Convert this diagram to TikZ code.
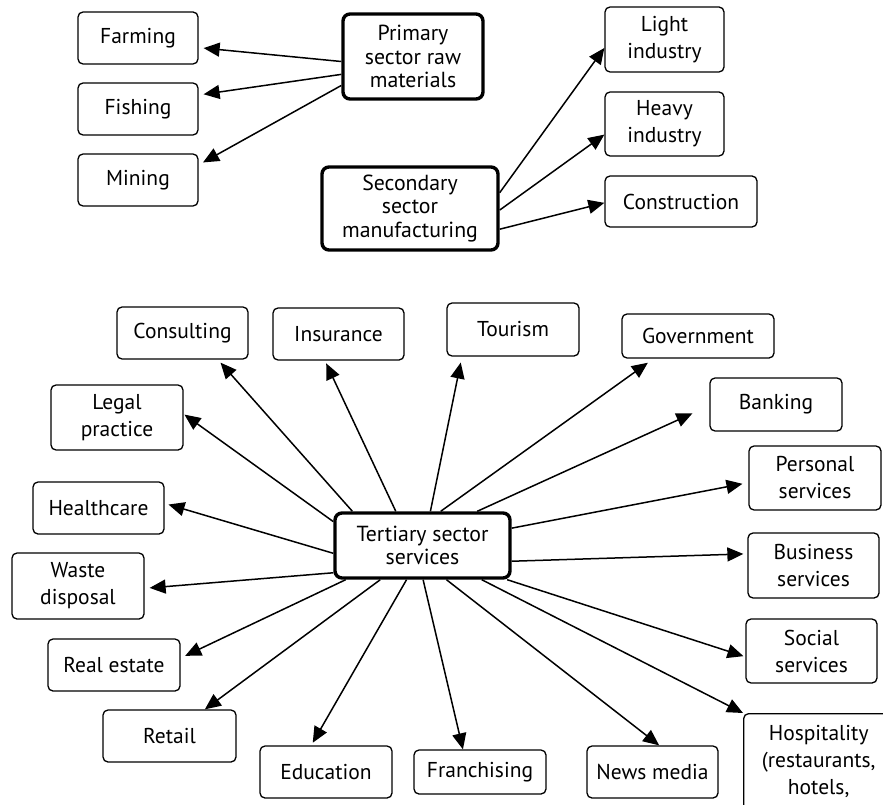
\documentclass[tikz,border=0pt]{standalone}
\usepackage{fontspec}
\setmainfont{PT Sans}
\usetikzlibrary{arrows.meta}

\tikzset{
  item/.style={draw, rounded corners=5pt, line width=1.3pt, align=center, inner sep=0pt, font=\fontsize{21.5}{27}\selectfont},
  sector/.style={item, rounded corners=7pt, line width=3.4pt, font=\fontsize{21.8}{23.5}\selectfont},
  link/.style={line width=1.5pt, -{Triangle[length=16pt,width=14pt]}},
}

\begin{document}
\begin{tikzpicture}[x=1pt, y=-1pt]
  \useasboundingbox (0,0) rectangle (883,805);
  \clip (0,0) rectangle (883,805);

  % primary and secondary sectors
  \node[sector, minimum width=140pt, minimum height=85pt] (pri) at (413,56.5) {Primary\\sector raw\\materials};
  \node[sector, minimum width=176pt, minimum height=83pt] (sec) at (410,208.5) {Secondary\\sector\\manufacturing};
  \node[item, minimum width=120pt, minimum height=52pt] (farm) at (138,38) {Farming};
  \node[item, minimum width=120pt, minimum height=52pt] (fish) at (138,109) {Fishing};
  \node[item, minimum width=120pt, minimum height=52pt] (mine) at (138,180) {Mining};
  \node[item, minimum width=119pt, minimum height=65pt] (light) at (664.5,39.5) {Light\\industry};
  \node[item, minimum width=119pt, minimum height=64pt] (heavy) at (664.5,124) {Heavy\\industry};
  \node[item, minimum width=152pt, minimum height=51pt] (constr) at (681,201.5) {Construction};

  \draw[link, shorten >=5pt] (pri.184.5) -- (farm.-9.5);
  \draw[link, shorten >=5pt] (pri.194) -- (fish.13);
  \draw[link, shorten >=5pt] (pri.202.9) -- (mine.14);
  \draw[link] (sec.10) -- (light.188);
  \draw[link] (sec.-1) -- (heavy.190.5);
  \draw[link] (sec.-13) -- (constr.181);

  % tertiary sector
  \node[sector, minimum width=175pt, minimum height=65pt] (ter) at (422.5,545.5) {Tertiary sector\\services};
  \node[item, minimum width=131pt, minimum height=52pt] (cons) at (182.5,333) {Consulting};
  \node[item, minimum width=131pt, minimum height=52pt] (ins) at (338.5,334) {Insurance};
  \node[item, minimum width=132pt, minimum height=53pt] (tour) at (513,329.5) {Tourism};
  \node[item, minimum width=152pt, minimum height=44pt] (gov) at (698,336) {Government};
  \node[item, minimum width=132pt, minimum height=53pt] (bank) at (776,404.5) {Banking};
  \node[item, minimum width=132pt, minimum height=64pt] (pers) at (815,478) {Personal\\services};
  \node[item, minimum width=131pt, minimum height=65pt] (bus) at (813.5,565.5) {Business\\services};
  \node[item, minimum width=131pt, minimum height=64pt] (soc) at (811.5,651) {Social\\services};
  \node[item, anchor=north west, text width=150pt, inner ysep=12pt, text depth=60pt] (hosp) at (743,713) {Hospitality\\(restaurants,\\hotels,};
  \node[item, minimum width=131pt, minimum height=52pt] (news) at (652.5,772) {News media};
  \node[item, minimum width=132pt, minimum height=44pt] (fran) at (480,772) {Franchising};
  \node[item, minimum width=132pt, minimum height=52pt] (edu) at (326,772) {Education};
  \node[item, minimum width=133pt, minimum height=52pt] (retail) at (169.5,736) {Retail};
  \node[item, minimum width=132pt, minimum height=52pt] (real) at (114,665) {Real estate};
  \node[item, minimum width=132pt, minimum height=66pt] (waste) at (78,586) {Waste\\disposal};
  \node[item, minimum width=131pt, minimum height=52pt] (health) at (98.5,508) {Healthcare};
  \node[item, minimum width=132pt, minimum height=65pt] (legal) at (117,417.5) {Legal\\practice};

  \foreach \a/\t/\b/\s in {154.6/cons/-37.8/4, 128.3/ins/-117.4/3, 77.4/tour/-152/6,
      62.4/gov/-153.4/7, 32.5/bank/181.3/18.6, 11.9/pers/184.3/6, -10/bus/170/4,
      -22.8/soc/185.2/2, -55.3/news/76/0, -89/fran/127.7/0, -115.5/edu/119/3,
      -141.3/retail/37.8/0, -156/real/6.9/5, -163/waste/-2.6/5, -175/health/4.4/4,
      165.6/legal/3/1}
    \draw[link, shorten >=\s pt] (ter.\a) -- (\t.\b);
  \draw[link] (ter.-30.8) -- (hosp.north west);
\end{tikzpicture}
\end{document}
